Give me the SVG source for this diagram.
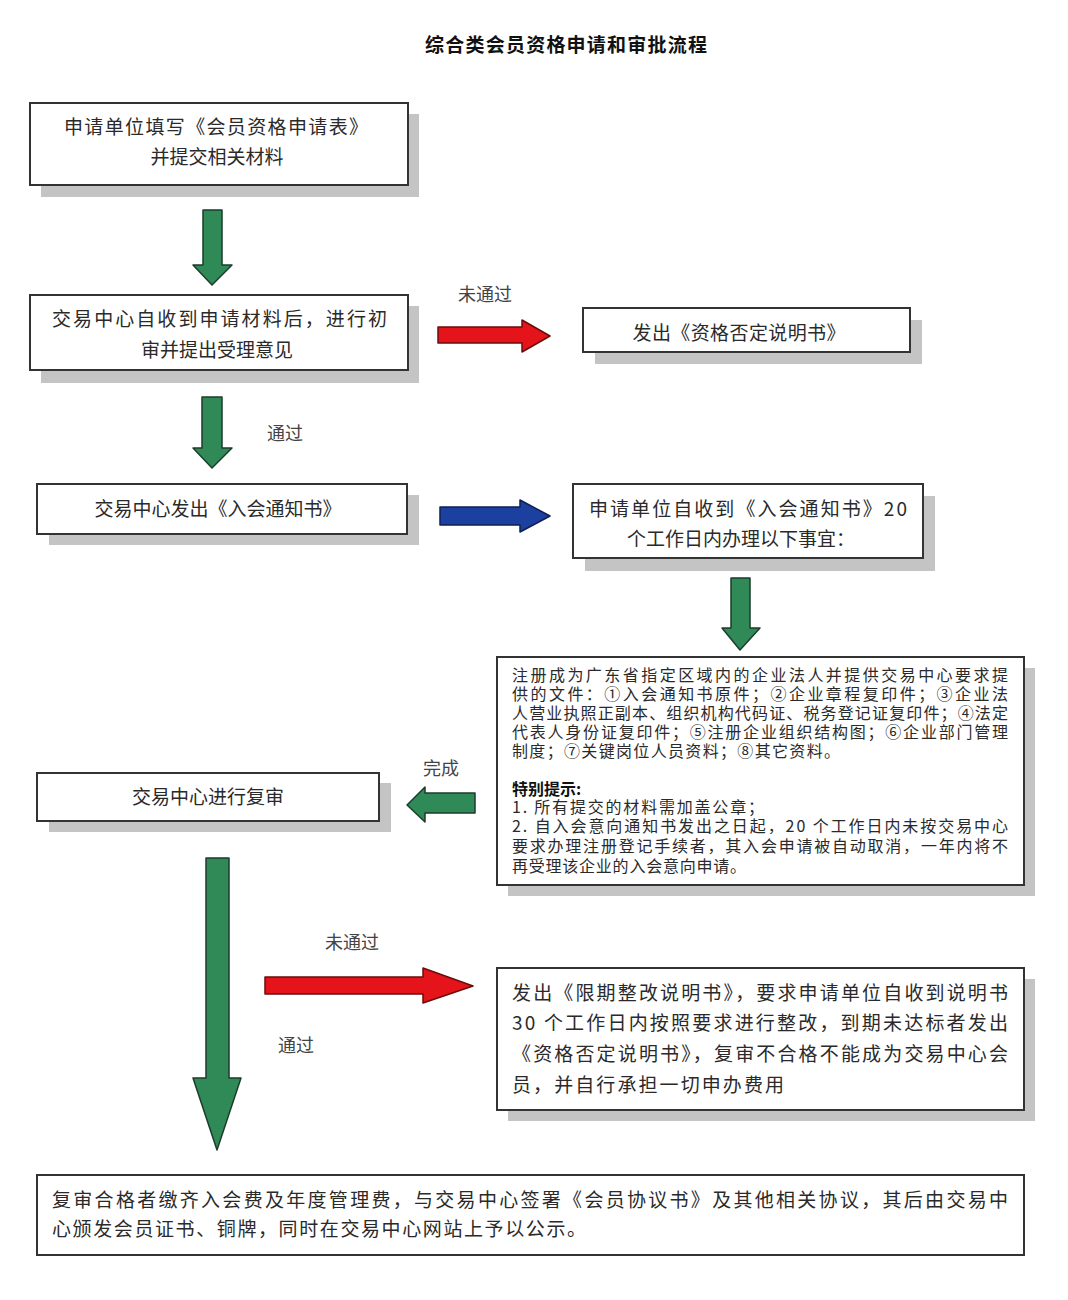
<svg xmlns="http://www.w3.org/2000/svg" width="1068" height="1300" viewBox="0 0 1068 1300">
<style>
text{font-family:"Noto Sans CJK SC","Noto Sans",sans-serif;fill:#2a2a2a}
.t{font-size:19px}
.c{text-anchor:middle}
.s{font-size:16px}
.lb{font-size:18px;fill:#444}
.box{fill:#fff;stroke:#333;stroke-width:2}
.sh{fill:#c4c4c4}
.g{fill:#2f8a58;stroke:#1d3d2b;stroke-width:1.5;stroke-linejoin:round}
.r{fill:#e4141a;stroke:#6b0c0c;stroke-width:1.5;stroke-linejoin:round}
.b{fill:#1c40a0;stroke:#0d1f55;stroke-width:1.5;stroke-linejoin:round}
</style>
<rect width="1068" height="1300" fill="#fff"/>
<text x="566" y="52" class="c" style="font-size:19px;font-weight:bold;fill:#111" textLength="282" lengthAdjust="spacing">综合类会员资格申请和审批流程</text>

<g id="n1">
<rect class="sh" x="41" y="114" width="378" height="83"/>
<rect class="box" x="30" y="103" width="378" height="82"/>
<text class="t c" x="216" y="134" textLength="304" lengthAdjust="spacing">申请单位填写《会员资格申请表》</text>
<text class="t c" x="217" y="164">并提交相关材料</text>
</g>

<g id="n2">
<rect class="sh" x="41" y="306" width="378" height="77"/>
<rect class="box" x="30" y="295" width="378" height="75"/>
<text class="t" x="52" y="326" textLength="335" lengthAdjust="spacing">交易中心自收到申请材料后，进行初</text>
<text class="t c" x="217" y="357">审并提出受理意见</text>
</g>

<g id="n3">
<rect class="sh" x="595" y="320" width="327" height="44"/>
<rect class="box" x="583" y="308" width="327" height="44"/>
<text class="t c" x="739" y="340" textLength="213" lengthAdjust="spacing">发出《资格否定说明书》</text>
</g>

<g id="n4">
<rect class="sh" x="49" y="495" width="370" height="50"/>
<rect class="box" x="37" y="484" width="370" height="50"/>
<text class="t c" x="218" y="516">交易中心发出《入会通知书》</text>
</g>

<g id="n5">
<rect class="sh" x="585" y="496" width="350" height="75"/>
<rect class="box" x="573" y="484" width="350" height="74"/>
<text class="t" x="589" y="516" textLength="318" lengthAdjust="spacing">申请单位自收到《入会通知书》20</text>
<text class="t c" x="741" y="546">个工作日内办理以下事宜：</text>
</g>

<g id="n6">
<rect class="sh" x="508" y="668" width="527" height="228"/>
<rect class="box" x="497" y="657" width="527" height="228"/>
<text class="s" x="512" y="681" textLength="496" lengthAdjust="spacing">注册成为广东省指定区域内的企业法人并提供交易中心要求提</text>
<text class="s" x="512" y="700" textLength="496" lengthAdjust="spacing">供的文件：①入会通知书原件；②企业章程复印件；③企业法</text>
<text class="s" x="512" y="719" textLength="496" lengthAdjust="spacing">人营业执照正副本、组织机构代码证、税务登记证复印件；④法定</text>
<text class="s" x="512" y="738" textLength="496" lengthAdjust="spacing">代表人身份证复印件；⑤注册企业组织结构图；⑥企业部门管理</text>
<text class="s" x="512" y="757" textLength="328" lengthAdjust="spacing">制度；⑦关键岗位人员资料；⑧其它资料。</text>
<text class="s" x="512" y="795" style="font-weight:bold;fill:#111">特别提示:</text>
<text class="s" x="512" y="813" textLength="252" lengthAdjust="spacing">1. 所有提交的材料需加盖公章；</text>
<text class="s" x="512" y="832" textLength="496" lengthAdjust="spacing">2. 自入会意向通知书发出之日起，20 个工作日内未按交易中心</text>
<text class="s" x="512" y="852" textLength="496" lengthAdjust="spacing">要求办理注册登记手续者，其入会申请被自动取消，一年内将不</text>
<text class="s" x="512" y="872" textLength="234" lengthAdjust="spacing">再受理该企业的入会意向申请。</text>
</g>

<g id="n7">
<rect class="sh" x="49" y="783" width="342" height="49"/>
<rect class="box" x="37" y="773" width="342" height="48"/>
<text class="t c" x="208" y="804">交易中心进行复审</text>
</g>

<g id="n8">
<rect class="sh" x="508" y="979" width="527" height="142"/>
<rect class="box" x="497" y="968" width="527" height="142"/>
<text class="t" x="512" y="1000" textLength="496" lengthAdjust="spacing">发出《限期整改说明书》，要求申请单位自收到说明书</text>
<text class="t" x="512" y="1030" textLength="496" lengthAdjust="spacing">30 个工作日内按照要求进行整改，到期未达标者发出</text>
<text class="t" x="512" y="1061" textLength="496" lengthAdjust="spacing">《资格否定说明书》，复审不合格不能成为交易中心会</text>
<text class="t" x="512" y="1092" textLength="272" lengthAdjust="spacing">员，并自行承担一切申办费用</text>
</g>

<g id="n9">
<rect class="box" x="37" y="1175" width="987" height="80"/>
<text class="t" x="52" y="1207" textLength="956" lengthAdjust="spacing">复审合格者缴齐入会费及年度管理费，与交易中心签署《会员协议书》及其他相关协议，其后由交易中</text>
<text class="t" x="52" y="1236" textLength="534" lengthAdjust="spacing">心颁发会员证书、铜牌，同时在交易中心网站上予以公示。</text>
</g>

<g id="connectors">
<polygon class="g" points="203,210 222,210 222,265 232,265 212,285 193,265 203,265"/>
<polygon class="r" points="438,327 522,327 522,320 550,336 522,352 522,343 438,343"/>
<text class="lb" x="485" y="301" text-anchor="middle">未通过</text>
<polygon class="g" points="202,397 222,397 222,448 232,448 212,468 193,448 202,448"/>
<text class="lb" x="285" y="440" text-anchor="middle">通过</text>
<polygon class="b" points="440,507 520,507 520,500 550,516 520,532 520,525 440,525"/>
<polygon class="g" points="731,578 750,578 750,628 760,628 740,650 722,628 731,628"/>
<polygon class="g" points="475,793 425,793 425,787 407,805 425,822 425,813 475,813"/>
<text class="lb" x="441" y="775" text-anchor="middle">完成</text>
<polygon class="g" points="206,858 229,858 229,1078 241,1078 217,1150 193,1078 206,1078"/>
<polygon class="r" points="265,977 423,977 423,968 473,986 423,1003 423,994 265,994"/>
<text class="lb" x="352" y="949" text-anchor="middle">未通过</text>
<text class="lb" x="296" y="1052" text-anchor="middle">通过</text>
</g>
</svg>
